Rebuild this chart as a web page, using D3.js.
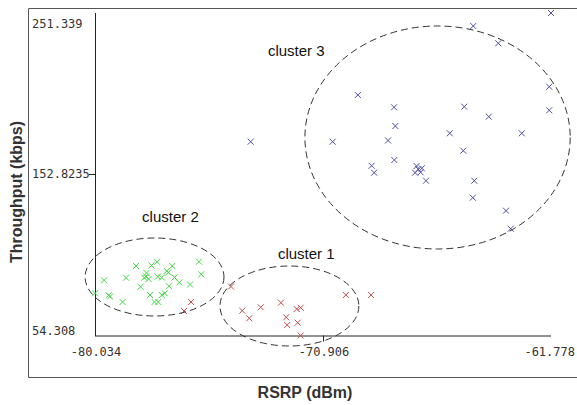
<!DOCTYPE html>
<html><head><meta charset="utf-8">
<script src="https://cdn.jsdelivr.net/npm/d3@7"></script>
<style>
html,body{margin:0;padding:0;background:#fff;}
svg{display:block;}
</style></head>
<body>
<svg id="chart" width="577" height="405"></svg>
<script>
// ---- data ----
const xDomain = [-80.034, -61.778];
const yDomain = [54.308, 251.339];
const xTickLabels = ["-80.034", "-70.906", "-61.778"];
const yTickLabels = ["251.339", "152.8235", "54.308"];
const xTitle = "RSRP (dBm)";
const yTitle = "Throughput (kbps)";

// cluster 1 (red)
const cluster1 = [
 [-76.47,69.28],[-76.19,74.78],[-74.59,84.24],[-74.14,69.46],[-73.86,64.82],
 [-73.40,71.54],[-72.59,74.35],[-72.38,65.43],[-72.34,60.72],[-71.96,70.50],
 [-71.80,71.29],[-71.92,62.13],[-71.80,54.31],[-69.99,79.05],[-68.98,79.05]
];
// cluster 2 (green)
const cluster2 = [
 [-80.034,80.09],[-79.67,88.03],[-79.49,78.87],[-79.43,78.14],[-78.93,74.78],
 [-78.79,89.62],[-78.39,96.77],[-78.21,84.12],[-78.06,89.62],[-77.97,92.49],
 [-77.89,88.83],[-77.77,97.08],[-77.55,99.34],[-77.83,79.05],[-77.65,74.78],
 [-77.50,74.78],[-77.52,90.23],[-77.36,89.74],[-77.36,79.05],[-77.24,80.09],
 [-77.16,93.72],[-77.10,92.80],[-77.07,84.43],[-76.94,96.77],[-76.85,89.74],
 [-76.66,86.69],[-76.23,85.47],[-75.87,99.40],[-75.78,91.70],[-77.99,90.36]
];
// cluster 3 (blue)
const cluster3 = [
 [-61.778,251.339],[-64.89,243.40],[-63.89,232.83],[-61.85,206.31],[-69.51,201.24],
 [-68.06,193.73],[-65.25,194.10],[-64.27,187.99],[-61.85,191.90],[-68.01,182.30],
 [-73.80,172.71],[-70.52,172.71],[-68.30,173.45],[-65.83,177.84],[-62.95,177.84],
 [-65.29,167.21],[-68.05,161.53],[-68.96,157.99],[-68.86,153.77],[-67.16,157.87],
 [-67.09,155.85],[-66.95,156.46],[-67.22,153.77],[-67.00,154.02],[-66.78,148.88],
 [-64.85,148.88],[-64.91,138.50],[-63.58,130.56],[-63.39,119.56]
];
// cluster outlines: [cx, cy, rx, ry] in data units
const ellipses = [
 [-72.25, 72.33, 2.78, 24.44],
 [-77.65, 90.05, 2.78, 23.83],
 [-66.32, 175.28, 5.31, 68.12]
];
const clusterNames = ["cluster 1", "cluster 2", "cluster 3"];
const clusterLabelPos = [[-72.71, 101.05], [-78.15, 123.65], [-73.11, 225.07]];
const clusterColors = ["#c44e4e", "#44d644", "#4f4fa8"];

// ---- drawing ----
const svg = d3.select("#chart");
const plot = {left: 95, right: 551, top: 13, bottom: 335.5};
const x = d3.scaleLinear().domain(xDomain).range([plot.left, plot.right]);
const y = d3.scaleLinear().domain(yDomain).range([plot.bottom, plot.top]);

// outer frame
svg.append("path")
  .attr("d", "M577,8.5 H28.5 V377.5 H577")
  .attr("fill", "none").attr("stroke", "#555").attr("stroke-width", 1);

// axes lines
svg.append("line").attr("x1", plot.left + 0.5).attr("x2", plot.left + 0.5)
  .attr("y1", plot.top).attr("y2", plot.bottom + 0.5).attr("stroke", "#222");
svg.append("line").attr("x1", plot.left).attr("x2", plot.right)
  .attr("y1", plot.bottom + 0.5).attr("y2", plot.bottom + 0.5).attr("stroke", "#222");

const xTickVals = xTickLabels.map(Number);
const yTickVals = yTickLabels.map(Number);

// middle ticks
svg.append("line").attr("x1", Math.round(x(xTickVals[1])) + 0.5).attr("x2", Math.round(x(xTickVals[1])) + 0.5)
  .attr("y1", plot.bottom).attr("y2", plot.bottom + 6).attr("stroke", "#222");
svg.append("line").attr("x1", plot.left - 6).attr("x2", plot.left)
  .attr("y1", Math.round(y(yTickVals[1])) + 0.5).attr("y2", Math.round(y(yTickVals[1])) + 0.5).attr("stroke", "#222");

const monoFont = "'DejaVu Sans Mono', monospace";
// x tick labels
svg.selectAll(".xt").data(xTickVals).enter().append("text")
  .attr("class", "xt")
  .attr("x", (d, i) => i === 2 ? 575 : x(d) + 1)
  .attr("y", 355.5)
  .attr("text-anchor", (d, i) => i === 2 ? "end" : "middle")
  .attr("font-family", monoFont).attr("font-size", 12).attr("fill", "#333")
  .text((d, i) => xTickLabels[i]);
// y tick labels (left aligned)
const yLabelY = [28, y(yTickVals[1]) + 4, 335];
svg.selectAll(".yt").data(yTickVals).enter().append("text")
  .attr("class", "yt")
  .attr("x", 32)
  .attr("y", (d, i) => yLabelY[i])
  .attr("font-family", monoFont).attr("font-size", 12).attr("fill", "#333")
  .text((d, i) => yTickLabels[i]);

// titles
svg.append("text").attr("x", 305).attr("y", 397.5).attr("text-anchor", "middle")
  .attr("font-family", "'Liberation Sans', Arial, sans-serif").attr("font-weight", "bold")
  .attr("font-size", 16).attr("fill", "#333").text(xTitle);
svg.append("text").attr("transform", "translate(22,192) rotate(-90)").attr("text-anchor", "middle")
  .attr("font-family", "'Liberation Sans', Arial, sans-serif").attr("font-weight", "bold")
  .attr("font-size", 16).attr("fill", "#333").text(yTitle);

// points
const clusters = [cluster1, cluster2, cluster3];
const s = 3;
clusters.forEach((pts, ci) => {
  svg.append("g").selectAll("path").data(pts).enter().append("path")
    .attr("d", d => {
      const px = x(d[0]), py = y(d[1]);
      return `M${px - s},${py - s}L${px + s},${py + s}M${px - s},${py + s}L${px + s},${py - s}`;
    })
    .attr("stroke", clusterColors[ci]).attr("stroke-width", 1).attr("fill", "none");
});

// ellipses
svg.append("g").selectAll("ellipse").data(ellipses).enter().append("ellipse")
  .attr("cx", d => x(d[0])).attr("cy", d => y(d[1]))
  .attr("rx", d => x(d[0] + d[2]) - x(d[0]))
  .attr("ry", d => y(d[1]) - y(d[1] + d[3]))
  .attr("fill", "none").attr("stroke", "#333").attr("stroke-width", 1)
  .attr("stroke-dasharray", "7,4");

// cluster labels
svg.append("g").selectAll("text").data(clusterLabelPos).enter().append("text")
  .attr("x", d => x(d[0])).attr("y", d => y(d[1]))
  .attr("font-family", "'Liberation Sans', Arial, sans-serif").attr("font-size", 15)
  .attr("fill", "#111")
  .text((d, i) => clusterNames[i]);
</script>
</body></html>
